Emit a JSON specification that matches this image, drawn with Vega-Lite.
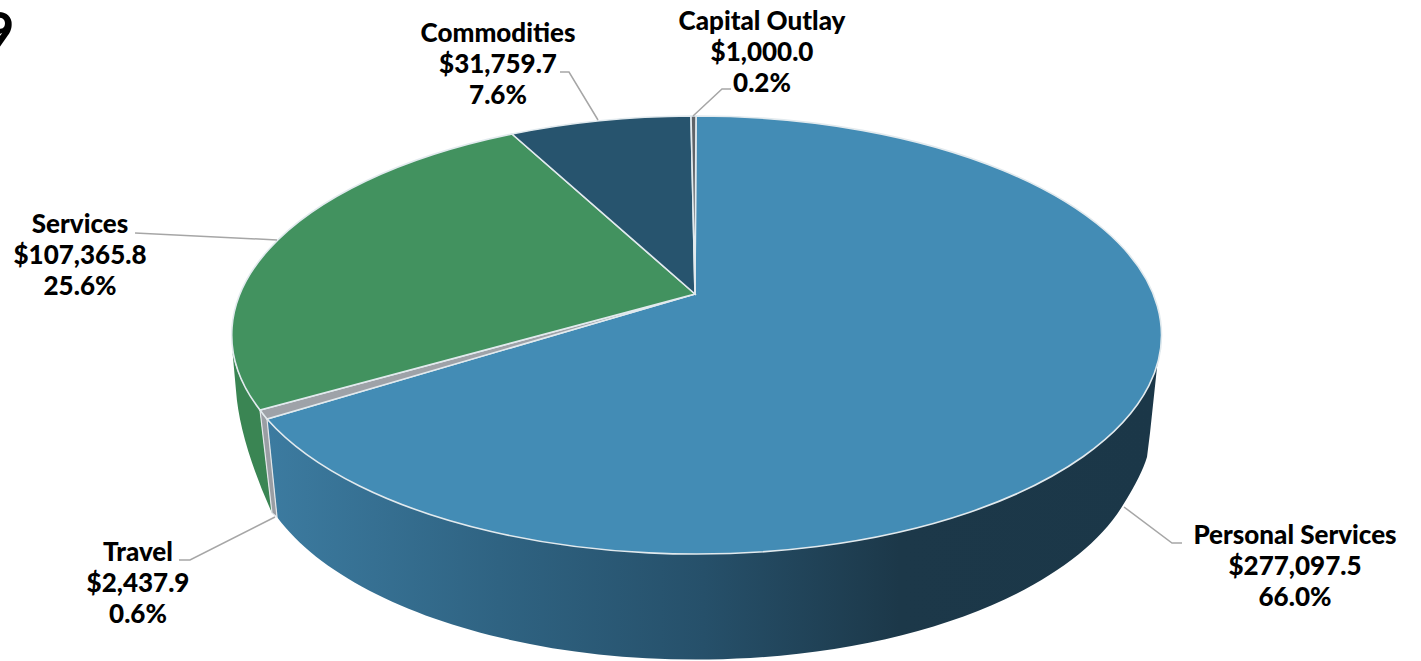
{
"$schema":"https://vega.github.io/schema/vega-lite/v6.json",
"width":1421,"height":661,"padding":0,"autosize":{"type":"none"},
"background":"white",
"config":{"view":{"stroke":null}},
"datasets":{"items":[
{"category":"Personal Services","amount":277097.5,"percent":66.0},
{"category":"Travel","amount":2437.9,"percent":0.6},
{"category":"Services","amount":107365.8,"percent":25.6},
{"category":"Commodities","amount":31759.7,"percent":7.6},
{"category":"Capital Outlay","amount":1000.0,"percent":0.2}
]},
"data":{"name":"items"},
"resolve":{"scale":{"shape":"independent","fill":"independent"}},
"layer":[
{"transform":[{"filter":"datum.category==='Services'"}],
 "mark":{"type":"point","filled":true,"size":4,"opacity":1,"fill":"#3A8553"},
 "encoding":{"shape":{"field":"category","type":"nominal","legend":null,"scale":{"domain":["Services"],"range":["M-450.5 79.5A465 219 0 0 1 -478 21.5L-474.5 60Q-471 110 -438.5 182.5Z"]}}}},
{"transform":[{"filter":"datum.category==='Personal Services'"}],
 "mark":{"type":"point","filled":true,"size":4,"opacity":1,"fill":{"gradient":"linear","x1":0,"y1":0,"x2":1,"y2":0,"stops":[{"offset":0,"color":"#3C7BA0"},{"offset":0.26,"color":"#2F6382"},{"offset":0.49,"color":"#26506A"},{"offset":0.71,"color":"#1C3849"},{"offset":1,"color":"#1B3748"}]}},
 "encoding":{"shape":{"field":"category","type":"nominal","legend":null,"scale":{"domain":["Personal Services"],"range":["M-443.5 88.5L-433.5 186.5A445 215 0 0 0 412.5 174.5Q431 145 436.5 126.5L439.5 102.5L447.5 27.5A465 219 0 0 1 -443.5 88.5Z"]}}}},
{"transform":[{"filter":"datum.category==='Travel'"}],
 "mark":{"type":"point","filled":true,"size":4,"opacity":1,"fill":"#9A9EA4","stroke":"#E3E7EA","strokeWidth":1.2},
 "encoding":{"shape":{"field":"category","type":"nominal","legend":null,"scale":{"domain":["Travel"],"range":["M-450.5 79.5L-438.5 182.5L-433.5 186.5L-443.5 88.5Z"]}}}},
{"mark":{"type":"point","filled":true,"size":4,"opacity":1,"stroke":"#E2EAEE","strokeWidth":1.6},
 "encoding":{
  "shape":{"field":"category","type":"nominal","legend":null,"scale":{"domain":["Personal Services","Travel","Services","Commodities","Capital Outlay"],"range":[
   "M-15.5 -36.5L-14.5 -214.5A465 219 0 1 1 -443.5 88.5Z",
   "M-15.5 -36.5L-443.5 88.5A465 219 0 0 1 -450.5 79.5Z",
   "M-15.5 -36.5L-450.5 79.5A465 219 0 0 1 -198.5 -196.5Z",
   "M-15.5 -36.5L-198.5 -196.5A465 219 0 0 1 -19.5 -214.5Z",
   "M-15.5 -36.5L-19.5 -214.5A465 219 0 0 1 -14.5 -214.5Z"]}},
  "fill":{"field":"category","type":"nominal","legend":null,"scale":{"domain":["Personal Services","Travel","Services","Commodities","Capital Outlay"],"range":["#438CB5","#9EA2A8","#42925F","#27546E","#5F6368"]}}}},
{"mark":{"type":"point","filled":false,"size":4,"opacity":1,"stroke":"#A6A6A6","strokeWidth":1.5},
 "encoding":{"shape":{"field":"category","type":"nominal","legend":null,"scale":{"domain":["Personal Services","Travel","Services","Commodities","Capital Outlay"],"range":[
   "M413.5 176.5L461.5 212.5L471.5 212.5",
   "M-435.5 186.5L-520.5 229.5L-531.5 229.5",
   "M-575.5 -97.5L-433.5 -90.5",
   "M-150.5 -258.5L-141.5 -258.5L-112.5 -210.5",
   "M20.5 -241.5L11.5 -241.5L-17.5 -214.5"]}}}},
{"transform":[{"calculate":"[datum.category,'$'+format(datum.amount,',.1f'),format(datum.percent,'.1f')+'%']","as":"lines"}],
 "mark":{"type":"text","font":"Lato","fontWeight":900,"fontSize":26,"lineHeight":31,"align":"center","baseline":"alphabetic","color":"#000000"},
 "encoding":{
  "text":{"field":"lines","type":"nominal"},
  "x":{"field":"amount","type":"quantitative","axis":null,"scale":{"domain":[0,1000,2437.9,31759.7,107365.8,277097.5],"range":[14,762,138,498,80,1295],"nice":false,"zero":false}},
  "y":{"field":"amount","type":"quantitative","axis":null,"scale":{"domain":[0,1000,2437.9,31759.7,107365.8,277097.5],"range":[49,30,561,42,233,544],"nice":false,"zero":false}}}},
{"data":{"values":[{"fragment":"9"}]},
 "mark":{"type":"text","font":"Lato","fontWeight":900,"fontSize":51,"align":"right","baseline":"alphabetic","color":"#000000"},
 "encoding":{"text":{"field":"fragment","type":"nominal"},"x":{"datum":0},"y":{"datum":0}}}
]
}
